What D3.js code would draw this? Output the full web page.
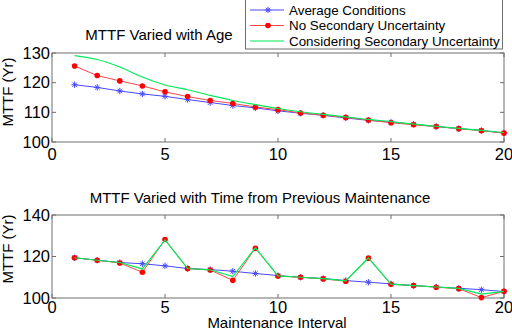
<!DOCTYPE html>
<html>
<head>
<meta charset="utf-8">
<script src="https://cdn.jsdelivr.net/npm/d3@7"></script>
<style>
  body { margin: 0; background: #fff; }
  svg { display: block; font-family: "Liberation Sans", Arial, sans-serif; }
</style>
</head>
<body>
<svg id="chart" width="512" height="330"></svg>
<script>
// maintenance intervals 1..20
const intervals = [1, 2, 3, 4, 5, 6, 7, 8, 9, 10, 11, 12, 13, 14, 15, 16, 17, 18, 19, 20];

// top panel: MTTF varied with age
const ageAverage = [119.3, 118.4, 117.2, 116.2, 115.4, 114.3, 113.3, 112.3, 111.5, 110.5,
                    109.7, 109.0, 108.1, 107.3, 106.7, 106.0, 105.2, 104.5, 103.9, 103.0];
const ageNoSecondary = [125.6, 122.4, 120.6, 118.9, 116.9, 115.3, 114.0, 113.0, 111.8, 110.9,
                        109.8, 109.0, 108.3, 107.4, 106.5, 105.8, 105.2, 104.5, 103.8, 103.0];
const ageSecondary = [129.1, 127.8, 125.3, 121.9, 119.2, 117.6, 115.7, 114.0, 112.6, 111.3,
                      110.2, 109.3, 108.5, 107.6, 106.9, 106.0, 105.3, 104.6, 103.9, 103.2];

// bottom panel: MTTF varied with time from previous maintenance
const timeAverage = [119.4, 118.2, 117.1, 116.5, 115.5, 114.2, 113.7, 112.9, 111.8, 110.8,
                     110.0, 109.4, 108.4, 107.6, 106.8, 106.0, 105.3, 104.7, 104.0, 103.1];
const timeNoSecondary = [119.4, 118.2, 116.9, 112.4, 128.2, 114.2, 113.5, 108.5, 124.0, 110.6,
                         110.0, 109.2, 108.1, 119.2, 106.6, 106.0, 105.2, 104.5, 100.2, 103.2];
const timeSecondary = [119.4, 118.2, 117.1, 114.0, 128.0, 114.2, 113.6, 110.3, 124.2, 110.7,
                       110.0, 109.3, 108.3, 119.3, 106.7, 106.0, 105.3, 104.6, 101.9, 103.2];

const xTicks = [0, 5, 10, 15, 20];
const topYTicks = [100, 110, 120, 130];
const bottomYTicks = [100, 120, 140];

const legendLabels = ["Average Conditions", "No Secondary Uncertainty", "Considering Secondary Uncertainty"];
const colors = { blue: "#4848ff", red: "#ff4646", green: "#00ec5a" };
const axisColor = "#6e6e6e";

const svg = d3.select("#chart");

// star marker like matlab '*'
function starPath(x, y, r) {
  const d = r * 0.7;
  return `M${x - r},${y}L${x + r},${y}M${x},${y - r}L${x},${y + r}` +
         `M${x - d},${y - d}L${x + d},${y + d}M${x - d},${y + d}L${x + d},${y - d}`;
}

function drawPanel(cfg) {
  const g = svg.append("g");
  const x = d3.scaleLinear().domain([0, 20]).range([cfg.left, cfg.right]);
  const y = d3.scaleLinear().domain(cfg.yDomain).range([cfg.bottom, cfg.top]);

  // box
  g.append("rect")
    .attr("x", cfg.left).attr("y", cfg.top)
    .attr("width", cfg.right - cfg.left).attr("height", cfg.bottom - cfg.top)
    .attr("fill", "none").attr("stroke", axisColor).attr("stroke-width", 1);

  // inside ticks on all four sides
  const tl = 4;
  xTicks.forEach((t) => {
    g.append("line").attr("x1", x(t)).attr("x2", x(t)).attr("y1", cfg.bottom).attr("y2", cfg.bottom - tl)
      .attr("stroke", axisColor);
    g.append("line").attr("x1", x(t)).attr("x2", x(t)).attr("y1", cfg.top).attr("y2", cfg.top + tl)
      .attr("stroke", axisColor);
    g.append("text").attr("x", x(t)).attr("y", cfg.bottom + cfg.xLabelGap)
      .attr("text-anchor", "middle").attr("font-size", 16.5).text(t);
  });
  cfg.yTicks.forEach((t) => {
    g.append("line").attr("x1", cfg.left).attr("x2", cfg.left + tl).attr("y1", y(t)).attr("y2", y(t))
      .attr("stroke", axisColor);
    g.append("line").attr("x1", cfg.right).attr("x2", cfg.right - tl).attr("y1", y(t)).attr("y2", y(t))
      .attr("stroke", axisColor);
    g.append("text").attr("x", cfg.left - 2).attr("y", y(t)).attr("dy", "0.35em")
      .attr("text-anchor", "end").attr("font-size", 16.5).text(t);
  });

  // titles
  g.append("text").attr("x", cfg.titleX).attr("y", cfg.titleY)
    .attr("text-anchor", "middle").attr("font-size", 15).text(cfg.title);
  g.append("text")
    .attr("transform", `translate(13,${cfg.ylabelY}) rotate(-90)`)
    .attr("text-anchor", "middle").attr("font-size", 15).text("MTTF (Yr)");

  const plot = g.append("g");
  const line = d3.line().x((d, i) => x(intervals[i])).y((d) => y(d));

  // blue average with stars
  plot.append("path").datum(cfg.blue).attr("d", line)
    .attr("fill", "none").attr("stroke", colors.blue).attr("stroke-width", 1);
  plot.append("g").selectAll("path").data(cfg.blue).join("path")
    .attr("d", (d, i) => starPath(x(intervals[i]), y(d), 3.2))
    .attr("stroke", colors.blue).attr("stroke-width", 1);

  // red no secondary with dots
  plot.append("path").datum(cfg.red).attr("d", line)
    .attr("fill", "none").attr("stroke", colors.red).attr("stroke-width", 1);
  plot.append("g").selectAll("circle").data(cfg.red).join("circle")
    .attr("cx", (d, i) => x(intervals[i])).attr("cy", (d) => y(d)).attr("r", 2.8)
    .attr("fill", "#ff0000");

  // green considering secondary, no markers
  const gLine = d3.line().x((d, i) => x(intervals[i])).y((d) => y(d)).curve(cfg.greenCurve);
  plot.append("path").datum(cfg.green).attr("d", gLine)
    .attr("fill", "none").attr("stroke", colors.green).attr("stroke-width", 1.2);
}

drawPanel({
  left: 52, right: 504, top: 53, bottom: 142,
  yDomain: [100, 130], yTicks: topYTicks, xLabelGap: 18,
  title: "MTTF Varied with Age", titleX: 159, titleY: 40, ylabelY: 92,
  blue: ageAverage, red: ageNoSecondary, green: ageSecondary,
  greenCurve: d3.curveMonotoneX
});

drawPanel({
  left: 52, right: 504, top: 215, bottom: 298,
  yDomain: [100, 140], yTicks: bottomYTicks, xLabelGap: 14.5,
  title: "MTTF Varied with Time from Previous Maintenance", titleX: 260, titleY: 203, ylabelY: 249,
  blue: timeAverage, red: timeNoSecondary, green: timeSecondary,
  greenCurve: d3.curveLinear
});

svg.append("text").attr("x", 277).attr("y", 328)
  .attr("text-anchor", "middle").attr("font-size", 15).text("Maintenance Interval");

// legend
const legend = svg.append("g");
legend.append("rect").attr("x", 245.5).attr("y", -1).attr("width", 257).attr("height", 50)
  .attr("fill", "#fff").attr("stroke", axisColor);
const rowsY = [10, 25.5, 41];
legendLabels.forEach((label, i) => {
  const yy = rowsY[i];
  const c = [colors.blue, colors.red, colors.green][i];
  legend.append("line").attr("x1", 250).attr("x2", 284).attr("y1", yy).attr("y2", yy)
    .attr("stroke", c).attr("stroke-width", i === 2 ? 1.2 : 1);
  if (i === 0) {
    legend.append("path").attr("d", starPath(268, yy, 3.2)).attr("stroke", colors.blue);
  } else if (i === 1) {
    legend.append("circle").attr("cx", 268).attr("cy", yy).attr("r", 2.8).attr("fill", "#ff0000");
  }
  legend.append("text").attr("x", 289).attr("y", yy).attr("dy", "0.35em")
    .attr("font-size", 13.4).text(label);
});
</script>
</body>
</html>
